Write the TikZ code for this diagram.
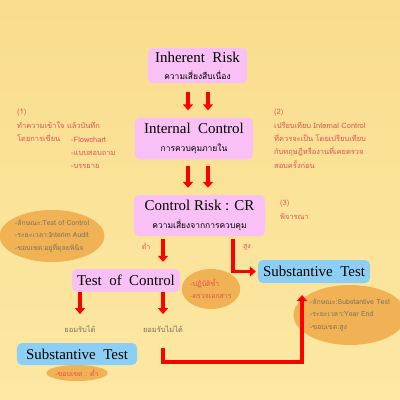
\documentclass[tikz,border=0pt]{standalone}
\usepackage{fontspec}
\setmainfont{Liberation Serif}
\newfontfamily\thai[Script=Thai]{Loma}
\usetikzlibrary{shapes.geometric,arrows.meta}

\definecolor{bgtop}{RGB}{249,221,142}
\definecolor{bgbot}{RGB}{252,232,163}
\definecolor{boxpink}{RGB}{249,192,246}
\definecolor{boxblue}{RGB}{141,206,245}
\definecolor{blobfill}{RGB}{240,178,84}
\definecolor{notered}{RGB}{226,82,82}
\definecolor{notegray}{RGB}{125,112,98}

\tikzset{
  box/.style={rounded corners=5bp, inner sep=0, align=center,
    font=\fontsize{15}{16}\selectfont},
  riskbox/.style={box, fill=boxpink},
  testbox/.style={box, fill=boxblue},
  sub/.style={font=\thai\fontsize{8.5}{10}\selectfont},
  note/.style={align=left, inner sep=0, anchor=north west, text=notered,
    font=\thai\fontsize{7.5}{13.5}\selectfont},
  blob/.style={ellipse, fill=blobfill, inner sep=0, align=left,
    font=\thai\fontsize{7}{12.5}\selectfont},
  flow/.style={red, line width=3.5bp, -{Triangle[width=10bp,length=6bp]}},
}

\begin{document}
\begin{tikzpicture}[x=1bp, y=-1bp]
  % background
  \shade[top color=bgtop, bottom color=bgbot] (0,0) rectangle (400,400);
  \useasboundingbox (0,0) rectangle (400,400);

  % main chain of boxes
  \node[riskbox, minimum width=99bp, minimum height=35bp] (ir) at (197.5,65.5)
    {Inherent\ \ Risk\\[1bp]{\thai\fontsize{8.5}{10}\selectfont ความเสี่ยงสืบเนื่อง}};
  \node[riskbox, minimum width=118bp, minimum height=42bp] (ic) at (194,138.5)
    {Internal\ \ Control\\[2bp]{\thai\fontsize{8.5}{10}\selectfont การควบคุมภายใน}};
  \node[riskbox, minimum width=131bp, minimum height=41bp] (cr) at (199.5,215.5)
    {Control Risk : CR\\[2bp]{\thai\fontsize{8.5}{10}\selectfont ความเสี่ยงจากการควบคุม}};
  \node[riskbox, minimum width=108bp, minimum height=23bp] (toc) at (126,280.5)
    {Test\ \ of\ \ Control};
  \node[testbox, minimum width=112bp, minimum height=23bp] (st1) at (314,271.5)
    {Substantive\ \ Test};
  \node[testbox, minimum width=120bp, minimum height=22bp] (st2) at (77,354)
    {Substantive\ \ Test};

  % side notes
  \node[note] (n1) at (17,109) {(1)\\ทำความเข้าใจ แล้วบันทึก\\โดยการเขียน};
  \node[note] (n1list) at (71,136.5) {-Flowchart\\-แบบสอบถาม\\-บรรยาย};
  \node[note] (n2) at (274,109)
    {(2)\\เปรียบเทียบ Internal Control\\ที่ควรจะเป็น โดยเปรียบเทียบ\\กับทฤษฎีหรืองานที่เคยตรวจ\\สอบครั้งก่อน};
  \node[note] (n3) at (280,200) {(3)\\พิจารณา};

  % ellipses
  \node[blob, minimum width=90bp, minimum height=52bp, text=notegray] (ecl) at (52,236)
    {-ลักษณะ:Test of Control\\-ระยะเวลา:Interim Audit\\-ขอบเขต:อยู่ที่ดุลยพินิจ};
  \node[blob, minimum width=54bp, minimum height=40bp, text=notered] (ecm) at (211,289)
    {-ปฏิบัติซ้ำ\\-ตรวจเอกสาร};
  \node[blob, minimum width=96bp, minimum height=60bp, text=notegray] (ecr) at (350,315)
    {-ลักษณะ:Substantive Test\\-ระยะเวลา:Year End\\-ขอบเขต:สูง};
  \node[blob, minimum width=50bp, minimum height=16bp, text=notered] (ecs) at (77,373)
    {-ขอบเขต : ต่ำ};

  % small labels
  \node[sub, text=notered, font=\thai\fontsize{7}{8}\selectfont] (lo) at (146,246) {ต่ำ};
  \node[sub, text=notered, font=\thai\fontsize{7}{8}\selectfont] (hi) at (247,247) {สูง};
  \node[sub, text=notegray, font=\thai\fontsize{7.5}{9}\selectfont] (acc) at (80,329) {ยอมรับได้};
  \node[sub, text=notegray, font=\thai\fontsize{7.5}{9}\selectfont] (rej) at (163,329) {ยอมรับไม่ได้};

  \coordinate (la) at (188,0);
  \coordinate (ra) at (208,0);
  \coordinate (lx) at (163,0);
  \coordinate (hx) at (233,0);
  \coordinate (turn) at (302,362);
  \coordinate (tip) at (302,295);

  % arrows
  \draw[flow, shorten <=9bp, shorten >=7bp] (ir.south -| la) -- (ic.north -| la);
  \draw[flow, shorten <=9bp, shorten >=7bp] (ir.south -| ra) -- (ic.north -| ra);
  \draw[flow, shorten <=6bp, shorten >=7bp] (ic.south -| la) -- (cr.north -| la);
  \draw[flow, shorten <=6bp, shorten >=7bp] (ic.south -| ra) -- (cr.north -| ra);
  \draw[flow, shorten <=3bp, shorten >=7bp] (cr.south -| lx) -- (toc.north -| lx);
  \draw[flow, shorten <=3bp, shorten >=2bp] (cr.south -| hx) |- (st1.west);
  \draw[flow, shorten >=8bp] (toc.south -| acc) -- (acc.north);
  \draw[flow, shorten >=8bp] (toc.south -| rej) -- (rej.north);
  \draw[flow, shorten <=12bp] (rej.south) |- (turn) -- (tip);
\end{tikzpicture}
\end{document}
